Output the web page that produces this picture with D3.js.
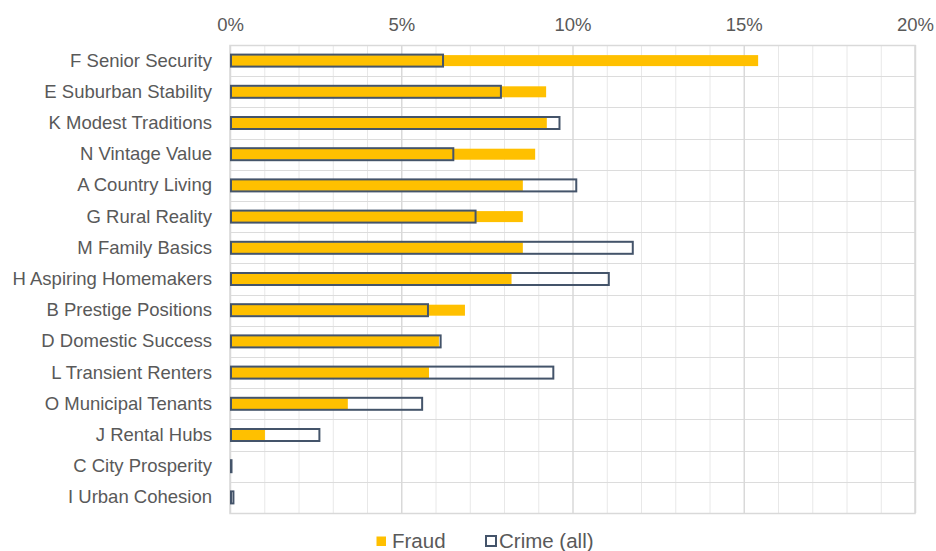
<!DOCTYPE html>
<head>
    <meta charset="utf-8" />
    <title>Fraud vs crime by group</title>
    <script src="https://d3js.org/d3.v7.min.js"></script>
    <style>
        body { margin: 0; background: #fff; font-family: "Liberation Sans", Arial, sans-serif; }
    </style>
</head>
<body>
<svg width="936" height="551"></svg>
<script>
    // categories, top to bottom
    let groups = ["F Senior Security", "E Suburban Stability", "K Modest Traditions", "N Vintage Value",
        "A Country Living", "G Rural Reality", "M Family Basics", "H Aspiring Homemakers",
        "B Prestige Positions", "D Domestic Success", "L Transient Renters", "O Municipal Tenants",
        "J Rental Hubs", "C City Prosperity", "I Urban Cohesion"];
    // share in percent
    let fraud = [15.42, 9.23, 9.25, 8.91, 8.55, 8.55, 8.55, 8.22, 6.86, 6.1, 5.81, 3.44, 1.02, 0, 0];
    let crime = [6.22, 7.91, 9.62, 6.52, 10.11, 7.17, 11.76, 11.06, 5.78, 6.15, 9.44, 5.61, 2.61, 0.03, 0.1];
    let xTicks = [0, 5, 10, 15, 20];
    let seriesNames = ["Fraud", "Crime (all)"];

    let svg = d3.select("svg");
    let margin = {top: 45, right: 21, bottom: 38, left: 230};
    let width = 936 - margin.left - margin.right;
    let height = 551 - margin.top - margin.bottom;

    let x = d3.scaleLinear().domain([0, 20]).range([0, width]);
    let y = d3.scaleBand().domain(groups).range([0, height]);

    let g = svg.append("g").attr("transform", "translate(" + margin.left + "," + margin.top + ")");

    // minor vertical gridlines every 1%
    g.selectAll(".minor").data(d3.range(1, 20).filter(d => d % 5 != 0)).enter()
        .append("line")
        .attr("x1", d => x(d) + 0.5).attr("x2", d => x(d) + 0.5)
        .attr("y1", 0).attr("y2", height)
        .attr("stroke", "#e8e8e8");

    // horizontal row separators
    g.selectAll(".row").data(groups.slice(1)).enter()
        .append("line")
        .attr("x1", 0).attr("x2", width)
        .attr("y1", d => Math.round(y(d)) + 0.5).attr("y2", d => Math.round(y(d)) + 0.5)
        .attr("stroke", "#dcdcdc");

    // major vertical gridlines + top axis labels
    let xAxis = d3.axisTop(x).tickValues(xTicks).tickFormat(d => d + "%").tickSize(-height).tickPadding(14);
    let ax = g.append("g").call(xAxis);
    ax.select(".domain").remove();
    ax.selectAll(".tick line").attr("stroke", "#d9d9d9").attr("stroke-width", 1.5);
    ax.selectAll(".tick text").attr("fill", "#595959").style("font-size", "18.5px")
        .style("font-family", "'Liberation Sans', Arial, sans-serif");

    // plot border
    g.append("rect").attr("x", 0).attr("y", 0.5).attr("width", width).attr("height", height)
        .attr("fill", "none").attr("stroke", "#d9d9d9").attr("stroke-width", 1.5);

    // category labels
    let yAxis = d3.axisLeft(y).tickSize(0).tickPadding(18);
    let ay = g.append("g").call(yAxis);
    ay.select(".domain").remove();
    ay.selectAll(".tick text").attr("fill", "#595959").style("font-size", "18.5px")
        .style("font-family", "'Liberation Sans', Arial, sans-serif");

    let barH = 11;
    let outH = 12;

    g.selectAll(".fraud").data(groups).enter()
        .append("rect")
        .attr("x", x(0))
        .attr("y", d => y(d) + y.bandwidth() / 2 - barH / 2)
        .attr("width", (d, i) => x(fraud[i]) - x(0))
        .attr("height", barH)
        .attr("fill", "#ffc000");

    g.selectAll(".crime").data(groups).enter()
        .append("rect")
        .attr("x", x(0) + 1)
        .attr("y", d => y(d) + y.bandwidth() / 2 - outH / 2)
        .attr("width", (d, i) => Math.max(x(crime[i]) - x(0) - 1, 0.5))
        .attr("height", outH)
        .attr("fill", "none")
        .attr("stroke", "#44546a")
        .attr("stroke-width", 2);

    // legend
    let legend = svg.append("g").attr("transform", "translate(376,541)");
    legend.append("rect").attr("x", 0.5).attr("y", -4.5).attr("width", 9.5).attr("height", 9.5).attr("fill", "#ffc000");
    legend.append("text").attr("x", 16).attr("y", 0).attr("dy", "0.35em").text(seriesNames[0])
        .attr("fill", "#595959").style("font-size", "20.5px");
    legend.append("rect").attr("x", 110).attr("y", -5).attr("width", 10).attr("height", 10)
        .attr("fill", "none").attr("stroke", "#44546a").attr("stroke-width", 2);
    legend.append("text").attr("x", 123).attr("y", 0).attr("dy", "0.35em").text(seriesNames[1])
        .attr("fill", "#595959").style("font-size", "20.5px");
</script>
</body>
